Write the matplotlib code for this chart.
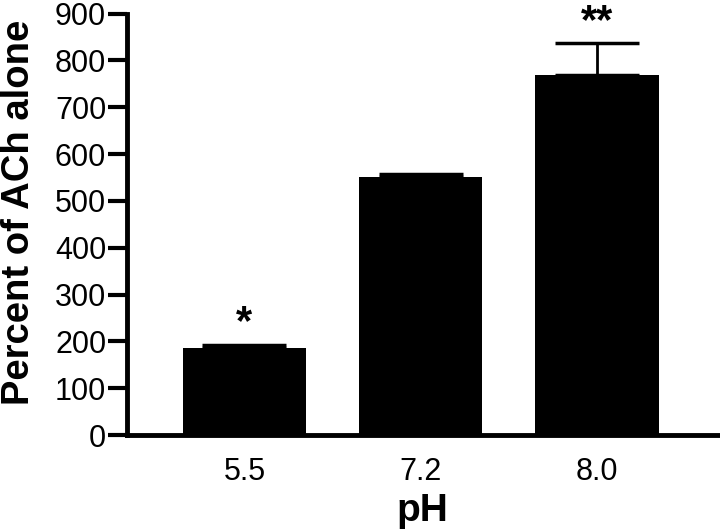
import matplotlib
matplotlib.use("Agg")
import matplotlib.pyplot as plt
import numpy as np

plt.rcParams['font.family'] = ['Liberation Sans', 'DejaVu Sans']

categories = ["5.5", "7.2", "8.0"]
values = [186, 551, 769]
errors = [6, 6, 67]
annotations = ["*", "", "**"]
yticks = [0, 100, 200, 300, 400, 500, 600, 700, 800, 900]

fig = plt.figure(figsize=(7.2, 5.3), dpi=100)
ax = fig.add_axes([0.1764, 0.179, 0.8206, 0.7955])

x = np.arange(len(categories))
ax.bar(x, values, width=0.7, color='black', zorder=2)
ax.errorbar(x, values, yerr=[np.zeros(len(values)), errors], fmt='none',
            ecolor='black', elinewidth=2, capsize=30, capthick=2.5, zorder=1)

for xi, v, e, a in zip(x, values, errors, annotations):
    if a:
        ax.text(xi, v + e + 4, a, ha='center', va='bottom', fontsize=30,
                fontweight='bold')

ax.set_xlim(-0.666, 2.686)
ax.set_ylim(0, 900)
ax.set_yticks(yticks)
ax.set_xticks(x)
ax.set_xticklabels(categories)
ax.tick_params(axis='y', length=14, width=3, labelsize=22, pad=1)
ax.tick_params(axis='x', length=0, labelsize=22, pad=16)
for s in ['top', 'right']:
    ax.spines[s].set_visible(False)
for s in ['left', 'bottom']:
    ax.spines[s].set_linewidth(3.5)
ax.set_ylabel("Percent of ACh alone", fontsize=27.5, fontweight='bold', labelpad=4)
ax.yaxis.set_label_coords(-0.152, 0.528)
ax.set_xlabel("pH", fontsize=28, fontweight='bold', labelpad=4)

fig.savefig("out.png", dpi=100)
